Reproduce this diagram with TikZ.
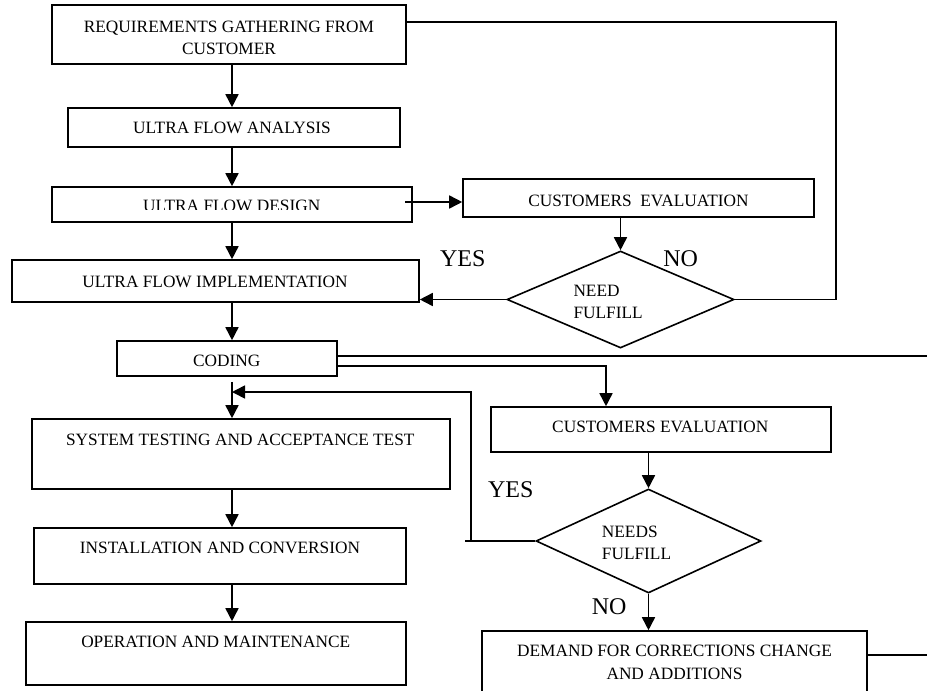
\documentclass[tikz,border=0pt]{standalone}
\usepackage{fontspec}
\setmainfont{Liberation Serif}
\usetikzlibrary{arrows.meta,shapes.geometric,fit}
\begin{document}
\begin{tikzpicture}[x=1pt,y=-1pt,
  box/.style={draw,rectangle,line width=1.6pt,inner sep=0pt},
  dia/.style={draw,diamond,line width=1.6pt,inner sep=0pt},
  txt/.style={inner sep=0pt,align=center,font=\fontsize{17.3}{22.7}\selectfont},
  ltxt/.style={inner sep=0pt,align=left,anchor=west,font=\fontsize{17.3}{22.7}\selectfont},
  yn/.style={inner sep=0pt,font=\fontsize{24}{28}\selectfont},
  line/.style={line width=1.6pt},
  arr/.style={line width=1.6pt,-{Triangle[length=13pt,width=13pt]}}]
\clip (0,0) rectangle (927,691);
\fill[white] (0,0) rectangle (927,691);
% boxes
\node[box,fit={(52,5) (406,64)}] (req) {};
\node[box,fit={(68,108) (400,147)}] (ana) {};
\node[box,fit={(52,187) (412,222)}] (des) {};
\node[box,fit={(463,179) (814,217)}] (ce1) {};
\node[box,fit={(12,260) (419,302)}] (impl) {};
\node[box,fit={(117,341) (337,376)}] (cod) {};
\node[box,fit={(32,419) (450,489)}] (sys) {};
\node[box,fit={(34,528) (406,584)}] (inst) {};
\node[box,fit={(26,622) (406,685)}] (oper) {};
\node[box,fit={(491,407) (831,452)}] (ce2) {};
\node[box,fit={(482,631) (867,710)}] (dem) {};
% diamonds
\node[dia,minimum width=227pt,minimum height=97pt] (d1) at (620.5,299.5) {};
\node[dia,minimum width=225pt,minimum height=104pt] (d2) at (648.5,541) {};
% texts
\node[txt] (reqT) at (229,37.9) {REQUIREMENTS GATHERING FROM\\CUSTOMER};
\node[txt] (anaT) at (232,128.3) {ULTRA FLOW ANALYSIS};
\begin{scope}
\clip (52,187) rectangle (412,209.8);
\node[txt] (desT) at (231.7,205.8) {ULTRA FLOW DESIGN};
\end{scope}
\node[txt] (ce1T) at (638.5,200.5) {CUSTOMERS\ \ EVALUATION};
\node[txt] (implT) at (215,281.7) {ULTRA FLOW IMPLEMENTATION};
\node[ltxt] (d1T) at (573.3,301.8) {NEED\\FULFILL};
\node[yn] (yes1) at (462.7,258.3) {YES};
\node[yn] (no1) at (680.7,258.3) {NO};
\node[txt] (codT) at (226.8,361) {CODING};
\node[txt] (sysT) at (240.3,440) {SYSTEM TESTING AND ACCEPTANCE TEST};
\node[txt] (instT) at (220,548.3) {INSTALLATION AND CONVERSION};
\node[txt] (operT) at (215.8,642) {OPERATION AND MAINTENANCE};
\node[txt] (ce2T) at (660.3,427) {CUSTOMERS EVALUATION};
\node[ltxt] (d2T) at (601.7,542.8) {NEEDS\\FULFILL};
\node[yn] (yes2) at (510.8,489.2) {YES};
\node[yn] (no2) at (609.2,606.7) {NO};
\node[txt] (demT) at (674.5,662.5) {DEMAND FOR CORRECTIONS CHANGE\\AND ADDITIONS};
% helper coordinates
\coordinate (spine) at (232,0);
\coordinate (noR) at (836,22);
\coordinate (edgeA) at (927,356);
\coordinate (edgeB) at (927,655);
\coordinate (fbX) at (471,541);
\coordinate (fbT) at (471,392);
\coordinate (fbStub) at (465,541);
% main chain
\draw[arr] (req.south -| spine) -- (ana.north -| spine);
\draw[arr] (ana.south -| spine) -- (des.north -| spine);
\draw[arr] (des.south -| spine) -- (impl.north -| spine);
\draw[arr] (impl.south -| spine) -- (cod.north -| spine);
\draw[arr] ([yshift=-5pt]cod.south -| spine) -- (sys.north -| spine);
\draw[arr] (sys.south -| spine) -- (inst.north -| spine);
\draw[arr] (inst.south -| spine) -- (oper.north -| spine);
% first evaluation loop
\draw[arr] (405,202) -- (ce1.west |- 0,202);
\draw[arr] (ce1.south -| d1.north) -- (d1.north);
\draw[arr] (d1.west) -- (impl.east |- d1.west);
\draw[line] (d1.east) -| (noR) -- (req.east |- noR);
% coding outputs
\draw[line] (cod.east |- edgeA) -- (edgeA);
\draw[arr] (cod.east |- 0,366) -| (ce2.north -| 606,0);
\draw[arr] (ce2.south -| d2.north) -- (d2.north);
\draw[line] (d2.west) -- (fbStub);
\draw[arr] (fbX) -- (fbT) -- (spine |- fbT);
\draw[arr] (d2.south) -- (dem.north -| d2.south);
\draw[line] (dem.east |- edgeB) -- (edgeB);
\end{tikzpicture}
\end{document}
